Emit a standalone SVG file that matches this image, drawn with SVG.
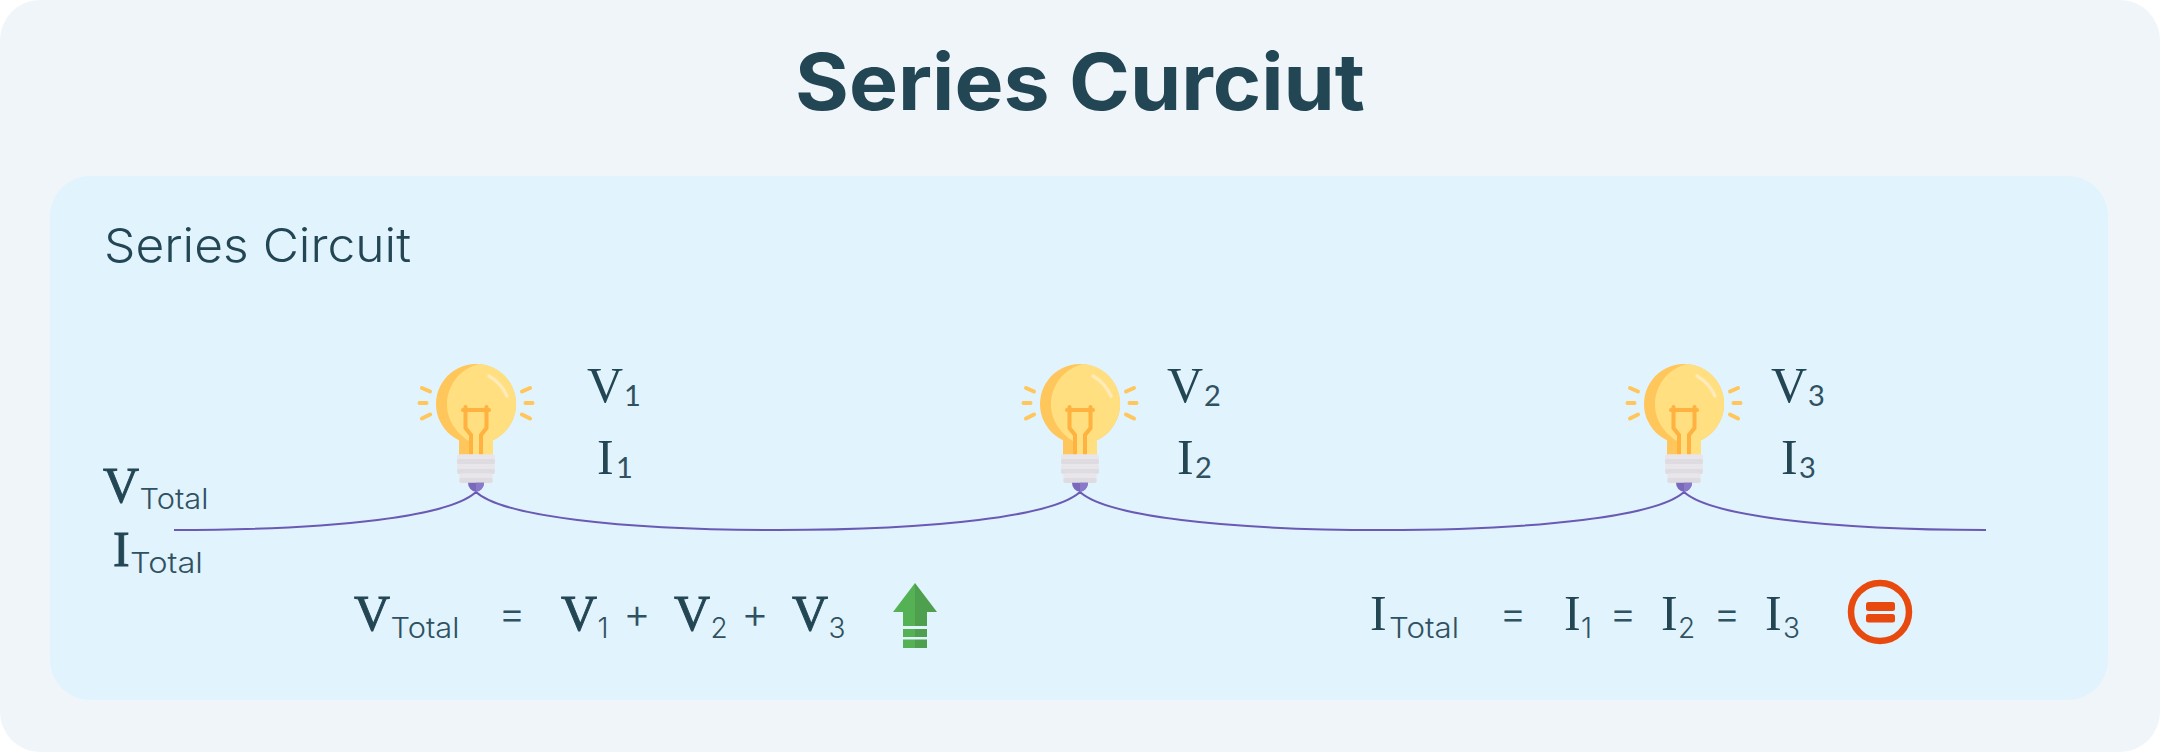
<svg xmlns="http://www.w3.org/2000/svg" width="2160" height="752" viewBox="0 0 2160 752">
<style>
.t{fill:#234655;font-family:"Inter","Liberation Sans",sans-serif}
.title{font-size:78px;font-weight:700}
.head{font-size:47px;font-weight:300}
.s{font-family:"Liberation Serif",serif;fill:#234655;font-size:50px}
.b{stroke:#234655;stroke-width:0.900}
.sub{fill:#2f5161;font-family:"Inter","Liberation Sans",sans-serif;font-size:28px;font-weight:300}
.num{fill:#2f5161;font-family:"Lato","Liberation Sans",sans-serif;font-size:29px;font-weight:400}
.op{fill:#2f5161;font-family:"Inter","Liberation Sans",sans-serif;font-size:42px;font-weight:300;text-anchor:middle}
.wire{fill:none;stroke:#6a59b5;stroke-width:2}
.ray{stroke:#ffc65c;stroke-width:4;stroke-linecap:round;fill:none}
.fil{stroke:#ffb23f;stroke-width:4;fill:none;stroke-linecap:round}
</style>
<defs>
<g id="bulb">
<path d="M-17 52V36.200A40 40 0 1 1 17 36.200V52Z" fill="#ffc65c"/>
<path d="M3 -40C-16 -36 -29 -18 -29 0C-29 18 -18 30 -7 37V52H17V36.200A40 40 0 0 0 3 -40Z" fill="#ffdf80"/>
<path d="M13 -28C20 -24 27 -17 31 -8" fill="none" stroke="#ffeab8" stroke-width="3.500" stroke-linecap="round"/>
<path class="fil" d="M-13 6H13"/>
<path class="fil" d="M-10.500 3V24L-5 31V50M10.500 3V24L5 31V50"/>
<path class="ray" d="M-54 -16L-46 -12.500M-56.500 -1H-49.500M-54 14.500L-46 10.500M54 -16L46 -12.500M49.500 -1H56.500M46 10.500L54 14.500"/>
<rect x="-19" y="50.300" width="38" height="10" rx="3" fill="#e8e6ea"/>
<rect x="-19" y="55" width="38" height="5.500" rx="2" fill="#dfdce1"/>
<rect x="-19" y="60" width="38" height="9.500" rx="3" fill="#e8e6ea"/>
<rect x="-19" y="65" width="38" height="5" rx="2" fill="#dfdce1"/>
<rect x="-16.700" y="69.300" width="33.400" height="9.500" rx="3" fill="#e8e6ea"/>
<rect x="-16.700" y="74" width="33.400" height="5" rx="2.500" fill="#dfdce1"/>
<path d="M-8 78.700H8A8 9 0 0 1 -8 78.700Z" fill="#7a68bd"/>
<path d="M0 78.700H8A8 9 0 0 1 0 87.700Z" fill="#8a79c8"/>
</g>
</defs>
<g id="background">
<rect width="2160" height="752" fill="#ffffff"/>
<rect width="2160" height="752" rx="40" fill="#f0f5f9"/>
<rect x="50" y="176" width="2058" height="524" rx="40" fill="#e1f3fc"/>
</g>
<text id="title" class="t title" x="795" y="110" textLength="570" lengthAdjust="spacingAndGlyphs">Series Curciut</text>
<text id="heading" class="t head" x="104" y="262" textLength="307" lengthAdjust="spacingAndGlyphs">Series Circuit</text>
<g id="connectors">
<path class="wire" d="M174 530C340 530 450 516 476 492C502 516 620 530 778 530C936 530 1054 516 1080 492C1106 516 1224 530 1382 530C1540 530 1658 516 1684 492C1710 516 1830 530 1986 530"/>
</g>
<g id="bulb-1"><use href="#bulb" x="476" y="404"/></g>
<g id="bulb-2"><use href="#bulb" x="1080" y="404"/></g>
<g id="bulb-3"><use href="#bulb" x="1684" y="404"/></g>
<g id="label-1">
<text class="s" x="587" y="402">V</text><text class="num" x="624" y="406">1</text>
<text class="s" x="597" y="474">I</text><text class="num" x="616" y="478">1</text>
</g>
<g id="label-2">
<text class="s" x="1167" y="402">V</text><text class="num" x="1204" y="406">2</text>
<text class="s" x="1177" y="474">I</text><text class="num" x="1195" y="478">2</text>
</g>
<g id="label-3">
<text class="s" x="1771" y="402">V</text><text class="num" x="1808" y="406">3</text>
<text class="s" x="1781" y="474">I</text><text class="num" x="1799" y="478">3</text>
</g>
<g id="label-total">
<text class="s b" x="103" y="502">V</text><text class="sub" x="139.500" y="509" textLength="69" lengthAdjust="spacingAndGlyphs">Total</text>
<text class="s b" x="113" y="566">I</text><text class="sub" x="130" y="573" textLength="73" lengthAdjust="spacingAndGlyphs">Total</text>
</g>
<g id="voltage-equation">
<text class="s b" x="354" y="630">V</text><text class="sub" x="390.500" y="638" textLength="69" lengthAdjust="spacingAndGlyphs">Total</text>
<text class="op" x="512" y="628">=</text>
<text class="s b" x="561" y="630">V</text><text class="sub" x="597.500" y="638">1</text>
<text class="op" x="637" y="628">+</text>
<text class="s b" x="674" y="630">V</text><text class="sub" x="710.500" y="638">2</text>
<text class="op" x="755" y="628">+</text>
<text class="s b" x="792" y="630">V</text><text class="sub" x="828.500" y="638">3</text>
</g>
<g id="current-equation">
<text class="s" x="1370" y="630">I</text><text class="sub" x="1389" y="638" textLength="70" lengthAdjust="spacingAndGlyphs">Total</text>
<text class="op" x="1513" y="628">=</text>
<text class="s" x="1564" y="630">I</text><text class="sub" x="1581" y="638">1</text>
<text class="op" x="1623" y="628">=</text>
<text class="s" x="1661" y="630">I</text><text class="sub" x="1678" y="638">2</text>
<text class="op" x="1727" y="628">=</text>
<text class="s" x="1765" y="630">I</text><text class="sub" x="1783" y="638">3</text>
</g>
<g id="up-arrow">
<path d="M915 583L893 612H903V626H915Z M903 629H915V637H903Z M903 639.500H915V648H903Z" fill="#55b254"/>
<path d="M915 583L937 612H927V626H915Z M915 629H927V637H915Z M915 639.500H927V648H915Z" fill="#4fa04e"/>
</g>
<g id="equal-badge">
<circle cx="1880" cy="612" r="29" fill="none" stroke="#e8490f" stroke-width="6.500"/>
<rect x="1866" y="602" width="29" height="9" rx="2.500" fill="#e8490f"/>
<rect x="1866" y="614" width="29" height="8.500" rx="2.500" fill="#e8490f"/>
</g>
</svg>
